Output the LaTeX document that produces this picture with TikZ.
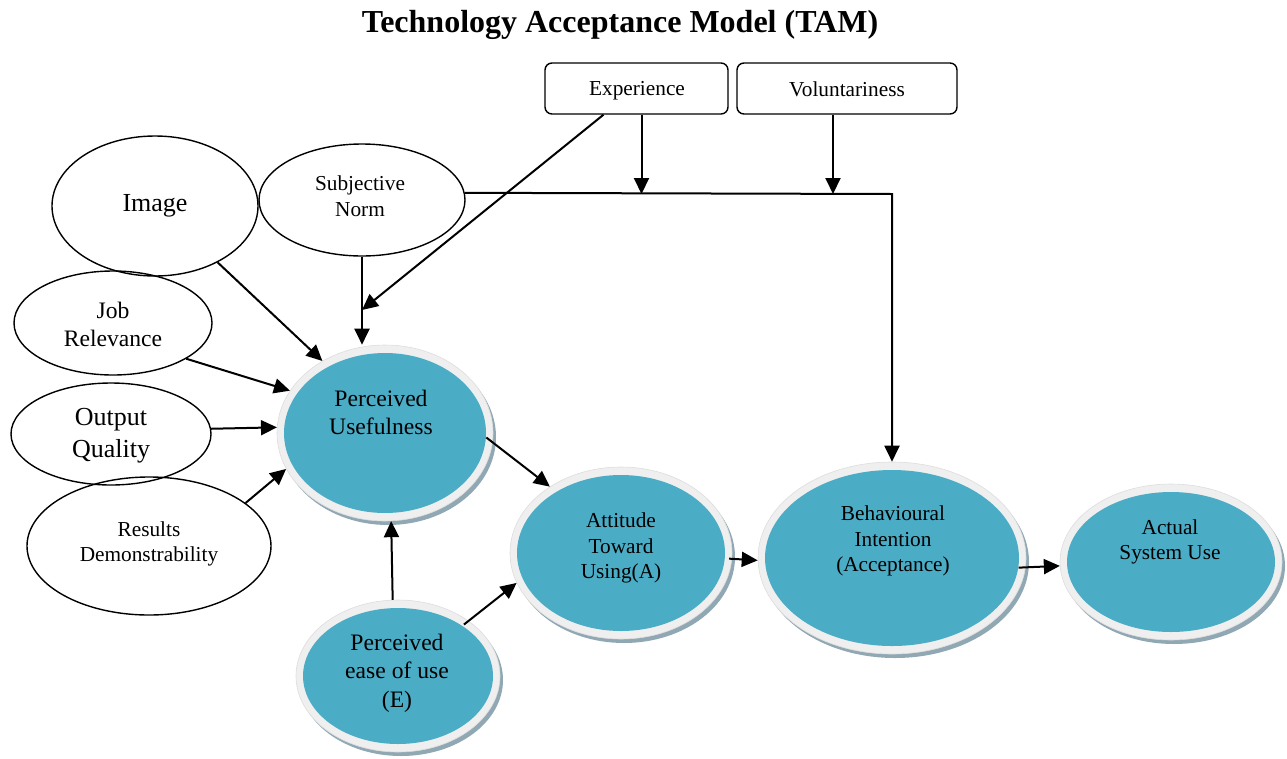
\documentclass[tikz,border=0pt]{standalone}
\usepackage{fontspec}
\setmainfont{Liberation Serif}
\usetikzlibrary{shapes.geometric,arrows.meta,calc}

\definecolor{tealfill}{HTML}{4BACC6}
\definecolor{rimgray}{HTML}{EFEFEF}
\definecolor{rimedge}{HTML}{DDDDDD}
\definecolor{shade}{HTML}{8FA8B4}

\tikzset{
  factor/.style={ellipse, draw=black, line width=1.4, inner sep=0},
  stepbox/.style={rectangle, rounded corners=7, draw=black, line width=1.4, fill=white, inner sep=0},
  rim/.style={ellipse, fill=rimgray, draw=rimedge, line width=0.6, inner sep=0},
  core/.style={ellipse, fill=tealfill, inner sep=0},
  halo/.style={ellipse, fill=shade, inner sep=0},
  arr/.style={line width=2, -{Triangle[length=16,width=15]}},
  txtL/.style={align=center, font=\fontsize{26}{32}\selectfont},
  txtM/.style={align=center, font=\fontsize{23.6}{28}\selectfont},
  txtS/.style={align=center, font=\fontsize{21.3}{25.5}\selectfont},
}

% shaded construct: shadow, light rim (named), teal core
\newcommand\tamnode[4]{%
  \node[halo, minimum width=#3, minimum height=#4] at ($(#2)+(3,4)$) {};
  \node[rim, minimum width=#3, minimum height=#4] (#1) at (#2) {};
  \node[core, minimum width=#3-14, minimum height=#4-16] at (#2) {};
}

\begin{document}
\begin{tikzpicture}[x=1pt,y=-1pt]
\useasboundingbox (0,0) rectangle (1287,758);

\node[font=\bfseries\fontsize{32}{36}\selectfont] (title) at (620,25) {Technology Acceptance Model (TAM)};

% moderators
\node[stepbox, minimum width=183, minimum height=51] (exp) at (636.5,88.5) {};
\node[txtS] (expt) at (637,90.5) {Experience};
\node[stepbox, minimum width=220, minimum height=51] (vol) at (847,88.5) {};
\node[txtS] (volt) at (847,89.5) {Voluntariness};

% external variables
\node[factor, minimum width=206, minimum height=140] (img) at (155,206) {};
\node[txtL] (imgt) at (155,206) {Image};
\node[factor, minimum width=206, minimum height=112] (sn) at (362,200) {};
\node[txtS] (snt) at (360,196) {Subjective\\Norm};
\node[factor, minimum width=198, minimum height=104] (jr) at (113,323) {};
\node[txtM] (jrt) at (113,324) {Job\\Relevance};
\node[factor, minimum width=200, minimum height=102] (oq) at (111,434) {};
\node[txtL] (oqt) at (111,436) {Output\\Quality};
\node[factor, minimum width=244, minimum height=138] (res) at (149,546) {};
\node[txtS] (rest) at (149,544) {Results\\Demonstrability};

% core constructs
\tamnode{pu}{385,433}{216}{176}
\node[txtM] (put) at (381,412) {Perceived\\Usefulness};
\tamnode{peu}{398,676}{204}{152}
\node[txtM, font=\fontsize{23.6}{28.5}\selectfont] (peut) at (397,673) {Perceived\\ease of use\\(E)};
\tamnode{att}{621,553}{222}{172}
\node[txtS] (attt) at (621,548) {Attitude\\Toward\\Using(A)};
\tamnode{bi}{892,558}{268}{192}
\node[txtS] (bit) at (893,541) {Behavioural\\Intention\\(Acceptance)};
\tamnode{use}{1171,562}{222}{156}
\node[txtS] (uset) at (1170,542) {Actual\\System Use};

% connectors
\coordinate (corner) at (892,194);
\coordinate (tap) at (362,310);

\draw[arr] (img.-42.7) -- (pu.131.8);
\draw[arr] (jr.-26.3) -- (pu.156.4);
\draw[arr] (oq.3.4) -- (pu.177);
\draw[arr] (res.24) -- (pu.-160.4);
\draw[arr] (sn.south) -- (sn.south |- pu.north);
\draw[arr] ([xshift=-33]exp.south) -- (tap);
\draw[arr] (peu.94.4) -- (pu.-86.2);
\draw[arr, shorten <=-6] (peu.38) -- (att.-164.5);
\draw[arr, shorten <=-8] (pu.-5.8) -- (att.137.2);
\draw[arr, shorten <=-3] (att.-3.7) -- (bi.181);
\draw[arr, shorten <=-7] (bi.-4) -- (use.182.8);
\draw[arr] (sn.4) -- (corner) -- (bi.north);
\draw[arr] ([xshift=5]exp.south) -- ([xshift=5]exp.south |- corner);
\draw[arr] ([xshift=-14]vol.south) -- ([xshift=-14]vol.south |- corner);
\end{tikzpicture}
\end{document}
